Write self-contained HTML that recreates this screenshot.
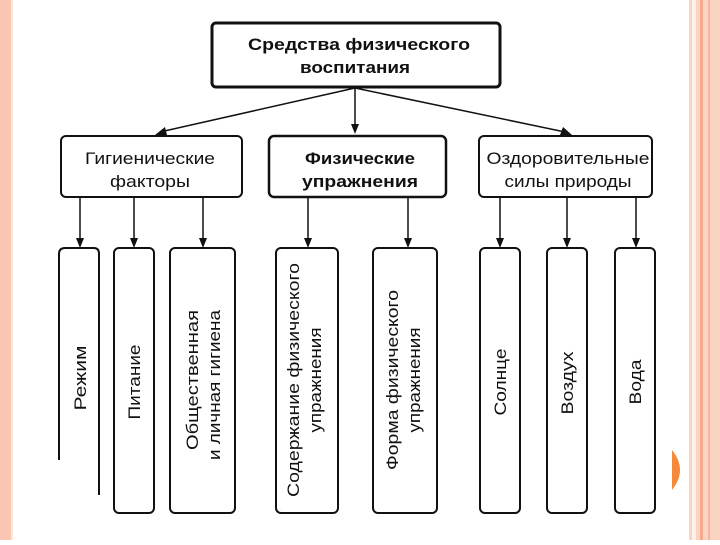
<!DOCTYPE html>
<html><head><meta charset="utf-8"><style>
html,body{margin:0;padding:0;background:#fff;}
</style></head><body>
<svg width="720" height="540" xmlns="http://www.w3.org/2000/svg" font-family="Liberation Sans, DejaVu Sans, sans-serif">
<rect x="0" y="0" width="720" height="540" fill="#fff"/>
<rect x="0" y="0" width="11" height="540" fill="#f9c6b4"/>
<rect x="11" y="0" width="2" height="540" fill="#fde6dc"/>
<rect x="689" y="0" width="31" height="540" fill="#fbd3c3"/>
<rect x="692" y="0" width="4" height="540" fill="#fdf0e8"/>
<rect x="700" y="0" width="3" height="540" fill="#f4a98e"/>
<rect x="708" y="0" width="2" height="540" fill="#f6b59d"/>
<path d="M672 450 Q688 470 672 490 Z" fill="#f58a3c"/>
<g fill="none" stroke="#111" stroke-width="2">
<rect x="212" y="23" width="288" height="64" rx="4" stroke-width="3"/>
<rect x="61" y="136" width="181" height="61" rx="5"/>
<rect x="269" y="136" width="177" height="61" rx="5" stroke-width="2.5"/>
<rect x="479" y="136" width="173" height="61" rx="5"/>
<path d="M59 460 V254 Q59 248 65 248 H94 Q99 248 99 254 V495"/>
<rect x="114" y="248" width="40" height="265" rx="5"/>
<rect x="170" y="248" width="65" height="265" rx="5"/>
<rect x="276" y="248" width="62" height="265" rx="5"/>
<rect x="373" y="248" width="64" height="265" rx="5"/>
<rect x="480" y="248" width="40" height="265" rx="5"/>
<rect x="547" y="248" width="40" height="265" rx="5"/>
<rect x="615" y="248" width="40" height="265" rx="5"/>
</g>
<g stroke="#111" stroke-width="1.5">
<line x1="355" y1="88" x2="160" y2="132"/>
<line x1="355" y1="88" x2="355" y2="126"/>
<line x1="355" y1="88" x2="565" y2="132"/>
<line x1="80" y1="197" x2="80" y2="240"/>
<line x1="134" y1="197" x2="134" y2="240"/>
<line x1="203" y1="197" x2="203" y2="240"/>
<line x1="308" y1="197" x2="308" y2="240"/>
<line x1="408" y1="197" x2="408" y2="240"/>
<line x1="500" y1="197" x2="500" y2="240"/>
<line x1="567" y1="197" x2="567" y2="240"/>
<line x1="636" y1="197" x2="636" y2="240"/>
</g>
<g fill="#111">
<polygon points="155,135 165,127 167,135"/>
<polygon points="351,124 359,124 355,134"/>
<polygon points="572,135 560,135 563,127"/>
<polygon points="76,238 84,238 80,248"/>
<polygon points="130,238 138,238 134,248"/>
<polygon points="199,238 207,238 203,248"/>
<polygon points="304,238 312,238 308,248"/>
<polygon points="404,238 412,238 408,248"/>
<polygon points="496,238 504,238 500,248"/>
<polygon points="563,238 571,238 567,248"/>
<polygon points="632,238 640,238 636,248"/>
</g>
<g fill="#111" font-size="17" text-anchor="middle" lengthAdjust="spacingAndGlyphs">
<text x="359" y="50" font-weight="bold" textLength="222" lengthAdjust="spacingAndGlyphs">Средства физического</text>
<text x="355" y="73" font-weight="bold" textLength="110" lengthAdjust="spacingAndGlyphs">воспитания</text>
<text x="150" y="164" textLength="130" lengthAdjust="spacingAndGlyphs">Гигиенические</text>
<text x="150" y="187" textLength="80" lengthAdjust="spacingAndGlyphs">факторы</text>
<text x="360" y="164" font-weight="bold" textLength="110" lengthAdjust="spacingAndGlyphs">Физические</text>
<text x="360" y="187" font-weight="bold" textLength="116" lengthAdjust="spacingAndGlyphs">упражнения</text>
<text x="568" y="164" textLength="163" lengthAdjust="spacingAndGlyphs">Оздоровительные</text>
<text x="568" y="187" textLength="127" lengthAdjust="spacingAndGlyphs">силы природы</text>
</g>
<g fill="#111" font-size="17" text-anchor="middle">
<text transform="translate(86,378) rotate(-90)" textLength="65" lengthAdjust="spacingAndGlyphs">Режим</text>
<text transform="translate(140,382) rotate(-90)" textLength="75" lengthAdjust="spacingAndGlyphs">Питание</text>
<text transform="translate(198,380) rotate(-90)" textLength="140" lengthAdjust="spacingAndGlyphs">Общественная</text>
<text transform="translate(220,385) rotate(-90)" textLength="150" lengthAdjust="spacingAndGlyphs">и личная гигиена</text>
<text transform="translate(299,380) rotate(-90)" textLength="234" lengthAdjust="spacingAndGlyphs">Содержание физического</text>
<text transform="translate(321,380) rotate(-90)" textLength="105" lengthAdjust="spacingAndGlyphs">упражнения</text>
<text transform="translate(398,380) rotate(-90)" textLength="180" lengthAdjust="spacingAndGlyphs">Форма физического</text>
<text transform="translate(420,380) rotate(-90)" textLength="105" lengthAdjust="spacingAndGlyphs">упражнения</text>
<text transform="translate(506,382) rotate(-90)" textLength="67" lengthAdjust="spacingAndGlyphs">Солнце</text>
<text transform="translate(573,383) rotate(-90)" textLength="63" lengthAdjust="spacingAndGlyphs">Воздух</text>
<text transform="translate(641,382) rotate(-90)" textLength="45" lengthAdjust="spacingAndGlyphs">Вода</text>
</g>
</svg>
</body></html>
